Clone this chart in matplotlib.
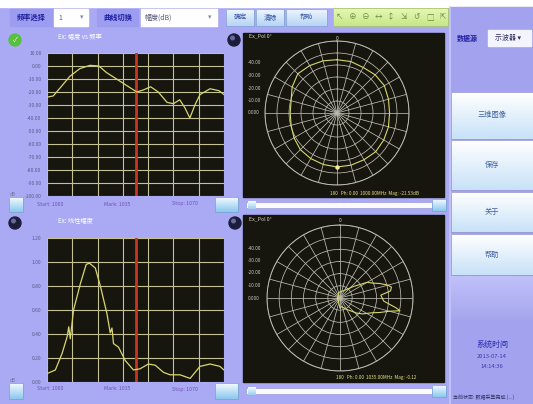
import matplotlib.pyplot as plt
import numpy as np
from matplotlib.patches import Rectangle, Circle
from matplotlib.colors import LinearSegmentedColormap

plt.rcParams['font.family'] = ['Noto Sans CJK SC', 'DejaVu Sans']

W, H = 533, 404

# amplitude sweep (dB) over frequency (MHz)
freq_a = [1000, 1002.5, 1006, 1009, 1013, 1017, 1020.5, 1023.5, 1027.5, 1031.5, 1035.5,
          1038, 1041, 1044, 1047.5, 1050, 1052.5, 1054.5, 1056.5, 1058.5, 1060.5, 1064.5, 1068, 1070]
amp_db = [-24, -23, -15, -8, -2, 0.5, 0, -5, -10, -15, -20,
          -18.5, -16, -20, -28, -29, -26, -32, -40, -30, -22, -17.5, -19, -22]

# linear response over frequency
freq_b = [1000, 1003.3, 1006, 1008, 1008.6, 1009.2, 1010.5, 1013.2, 1015.5, 1016.8, 1019.1, 1021.1,
          1023.7, 1025, 1025.7, 1026.3, 1028.3, 1030.9, 1034.2, 1036.8, 1040.1, 1042.8, 1046.1,
          1048.7, 1052.6, 1056.6, 1060.5, 1064.5, 1068.4, 1070]
amp_lin = [0.07, 0.10, 0.24, 0.38, 0.46, 0.36, 0.60, 0.82, 0.98, 0.99, 0.95, 0.80,
           0.57, 0.41, 0.45, 0.32, 0.29, 0.18, 0.10, 0.11, 0.15, 0.14, 0.08,
           0.06, 0.06, 0.03, 0.13, 0.15, 0.13, 0.10]
marker_freq = 1035

# horizontal-plane pattern (bearing in degrees, normalised radius)
pat1_deg = [0, 15, 30, 45, 60, 75, 90, 105, 120, 135, 150, 165, 180, 195, 210, 225,
            240, 255, 270, 285, 300, 315, 330, 345, 360]
pat1_r = [0.74, 0.74, 0.73, 0.75, 0.76, 0.74, 0.73, 0.74, 0.75, 0.76, 0.75, 0.75, 0.75, 0.74,
          0.73, 0.72, 0.69, 0.66, 0.65, 0.66, 0.72, 0.77, 0.76, 0.75, 0.74]

# second pattern, narrow lobe
pat2_deg = [250, 350, 30, 50, 56, 60, 66, 70, 75, 78, 82, 86, 94, 100, 102, 105, 110, 115,
            125, 132, 150, 170, 180, 190, 270]
pat2_r = [0.04, 0.08, 0.12, 0.25, 0.33, 0.43, 0.50, 0.58, 0.68, 0.72, 0.70, 0.56, 0.60, 0.78,
          0.84, 0.70, 0.58, 0.48, 0.38, 0.31, 0.18, 0.12, 0.14, 0.08, 0.03]

ring_labels = ['-40.00', '-30.00', '-20.00', '-10.00', '0.000']
side_buttons = ['三维图像', '保存', '关于', '帮助']

BG = '#aaaaf4'
PANEL = '#a2a2ee'
DARK = '#16160f'
GRID = '#c4c296'
CURVE = '#dad66c'

fig = plt.figure(figsize=(W / 100, H / 100), dpi=100)
fig.patch.set_facecolor(BG)


def px_axes(x0, y0, x1, y1, **kw):
    return fig.add_axes([x0 / W, 1 - y1 / H, (x1 - x0) / W, (y1 - y0) / H], **kw)


def grad_box(ax, x0, y0, x1, y1, top, bottom, edge=None, z=1):
    cmap = LinearSegmentedColormap.from_list('g', [top, bottom])
    ax.imshow(np.linspace(0, 1, 32).reshape(-1, 1), extent=(x0, x1, y1, y0), cmap=cmap,
              aspect='auto', zorder=z, interpolation='bilinear')
    if edge:
        ax.add_patch(Rectangle((x0, y0), x1 - x0, y1 - y0, fill=False, ec=edge, lw=0.6, zorder=z + 0.1))


bg = px_axes(0, 0, W, H, zorder=0)
bg.axis('off')

# top strip, toolbar and right panel
bg.add_patch(Rectangle((0, 0), W, 7, color='white', zorder=1))
bg.add_patch(Rectangle((450, 7), W - 450, H - 7, color=PANEL, zorder=1))
bg.plot([449.5, 449.5], [7, H], color='#c8c8fa', lw=1.2, zorder=2)

bg.add_patch(Rectangle((10, 9), 43, 17, color='#9c9cf0', zorder=2))
bg.text(31, 17.5, '频率选择', color='#1f1fa0', fontsize=5.2, weight='bold', ha='center', va='center', zorder=3)
bg.add_patch(Rectangle((54, 9), 34, 17, color='white', zorder=2))
bg.text(58, 17.5, '1', color='#555577', fontsize=5, va='center', zorder=3)
bg.text(82, 17.5, '▾', color='#8888aa', fontsize=5, ha='center', va='center', zorder=3)
bg.add_patch(Rectangle((97, 9), 41, 17, color='#9c9cf0', zorder=2))
bg.text(117.5, 17.5, '曲线切换', color='#1f1fa0', fontsize=5.2, weight='bold', ha='center', va='center', zorder=3)
bg.add_patch(Rectangle((141, 9), 76, 17, color='white', zorder=2))
bg.text(145, 17.5, '幅度(dB)', color='#555577', fontsize=5, va='center', zorder=3)
bg.text(210, 17.5, '▾', color='#8888aa', fontsize=5, ha='center', va='center', zorder=3)

for (x0, x1), label in zip([(226, 254), (256, 284), (286, 327)], ['确定', '清除', '帮助']):
    grad_box(bg, x0, 9, x1, 26, '#eef6ff', '#b6d4f4', edge='#8aa6dc', z=2)
    bg.text((x0 + x1) / 2, 17.5, label, color='#3050a0', fontsize=4.8, ha='center', va='center', zorder=3)

grad_box(bg, 333, 8, 448, 26, '#e6f8b4', '#c8e68a', edge='#a8c870', z=2)
for i, ic in enumerate(['↖', '⊕', '⊖', '↔', '↕', '⇲', '↺', '□', '⇱']):
    bg.text(340 + i * 12.8, 17, ic, color='#6a8a40', fontsize=5.5, ha='center', va='center', zorder=3)

# right side controls
bg.text(467, 38, '数据源', color='#1f1fa0', fontsize=5, weight='bold', ha='center', va='center', zorder=3)
bg.add_patch(Rectangle((488, 30), 43, 16, color='#f4f4ff', zorder=2))
bg.text(508, 38, '示波器 ▾', color='#303060', fontsize=5, ha='center', va='center', zorder=3)
for (y0, y1), label in zip([(92, 139), (140, 190), (192, 232), (234, 275)], side_buttons):
    grad_box(bg, 451, y0, 533, y1, '#ffffff', '#c8e2f8', edge='#9a9ad8', z=2)
    bg.text(492, (y0 + y1) / 2, label, color='#4060a0', fontsize=5.2, ha='center', va='center', zorder=3)
grad_box(bg, 451, 276, 533, 320, '#c0c0fa', '#a6a6ee', z=2)
bg.text(492, 344, '系统时间', color='#2a2ab0', fontsize=5.8, ha='center', va='center', zorder=3)
bg.text(492, 356, '2013-07-14', color='#3a3ab0', fontsize=4.2, ha='center', va='center', zorder=3)
bg.text(492, 366, '14:14:36', color='#3a3ab0', fontsize=4.2, ha='center', va='center', zorder=3)
bg.text(453, 397, '当前状态: 数据采集完成 (...)', color='#303060', fontsize=3.6, va='center', zorder=3)

# small buttons and indicator balls around the sweep plots
for x0, x1, y0, y1 in [(9, 23, 197, 212), (215, 238, 197, 212), (9, 23, 383, 399), (215, 238, 383, 399)]:
    grad_box(bg, x0, y0, x1, y1, '#f4fbff', '#8cc8ee', edge='#7aa6d6', z=2)
bg.add_patch(Circle((15, 40), 6, color='#58c040', zorder=2))
bg.text(15, 40, '✓', color='white', fontsize=5, ha='center', va='center', zorder=3)
for cx, cy in [(234, 40), (15, 223), (235, 223)]:
    bg.add_patch(Circle((cx, cy), 6, color='#1c1c3c', zorder=2))
    bg.add_patch(Circle((cx - 1.5, cy - 2), 1.8, color='#6a6a9a', zorder=3))

bg.text(58, 37, 'Ex: 幅度 vs 频率', color='white', fontsize=4.5, va='center', zorder=3)
bg.text(58, 221, 'Ex: 线性幅度', color='white', fontsize=4.5, va='center', zorder=3)
for yb in [204, 389]:
    bg.text(37, yb, 'Start: 1000', color='#7050b8', fontsize=3.8, va='center', zorder=3)
    bg.text(104, yb, 'Mark: 1035', color='#7050b8', fontsize=3.8, va='center', zorder=3)
    bg.text(172, yb, 'Stop: 1070', color='#7050b8', fontsize=3.8, va='center', zorder=3)
bg.text(10, 194, 'dB', color='#7070a0', fontsize=3.4, va='center', zorder=3)
bg.text(10, 380, 'dB', color='#7070a0', fontsize=3.4, va='center', zorder=3)

# sliders under the pattern panels
for ys in [205, 391]:
    bg.add_patch(Rectangle((246, ys - 3), 186, 6, color='#fafaff', ec='#9a9ad8', lw=0.5, zorder=2))
    grad_box(bg, 248, ys - 4, 256, ys + 4, '#f4fbff', '#9ccff0', z=3)
    grad_box(bg, 432, ys - 6, 446, ys + 6, '#f4fbff', '#8cc8ee', edge='#7aa6d6', z=3)

bg.add_patch(Rectangle((243, 33), 201, 164, color=DARK, zorder=2))
bg.add_patch(Rectangle((243, 215), 201, 167, color=DARK, zorder=2))
bg.set_xlim(0, W)
bg.set_ylim(H, 0)


def sweep_axes(rect, x, y, ylim, ystep, fmt):
    ax = px_axes(*rect, zorder=1)
    ax.set_facecolor(DARK)
    ax.set_xlim(1000, 1070)
    ax.set_ylim(*ylim)
    ax.set_xticks(np.arange(1000, 1071, 10))
    ax.set_yticks(np.arange(ylim[0], ylim[1] + ystep / 2, ystep))
    ax.set_xticklabels([])
    ax.set_yticklabels([fmt % v for v in ax.get_yticks()])
    ax.tick_params(length=0, labelsize=3.6, labelcolor='#5a5a88', pad=4)
    ax.grid(color=GRID, lw=0.8)
    for s in ax.spines.values():
        s.set_visible(False)
    ax.axvline(marker_freq, color='#c8361e', lw=2)
    ax.plot(x, y, color=CURVE, lw=0.9)
    return ax


sweep_axes((47, 53, 224, 196), freq_a, amp_db, (-100, 10), 10, '%.2f')
sweep_axes((47, 238, 224, 382), freq_b, amp_lin, (0, 1.2), 0.2, '%.2f')


def pattern_axes(rect, deg, r):
    ax = px_axes(*rect, projection='polar', zorder=3)
    ax.set_facecolor('none')
    ax.set_theta_zero_location('N')
    ax.set_theta_direction(-1)
    ax.set_rlim(0, 1)
    ax.set_rticks(np.linspace(1 / 6, 1, 6))
    ax.set_yticklabels([])
    ax.set_thetagrids(np.arange(0, 360, 15), labels=[])
    ax.grid(color='#bcbcb0', lw=0.55)
    ax.spines['polar'].set_color('#bcbcb0')
    ax.spines['polar'].set_linewidth(0.7)
    ax.tick_params(length=0)
    ax.plot(np.deg2rad(deg), r, color=CURVE, lw=0.8)
    return ax


p1 = pattern_axes((265, 41, 409, 185), pat1_deg, pat1_r)
p1.plot(np.deg2rad(180), 0.75, 'o', color='#f4f0a0', ms=2.2)
pattern_axes((267, 225, 413, 371), pat2_deg, pat2_r)

# labels drawn over the pattern panels
fg = px_axes(0, 0, W, H, zorder=5)
fg.set_facecolor('none')
fg.axis('off')
fg.set_xlim(0, W)
fg.set_ylim(H, 0)
for cx, cy, top in [(337, 113, 36), (340, 298, 219)]:
    fg.text(249, top, 'Ex_Pol 0°', color='#d8d8c8', fontsize=3.8, va='center')
    fg.text(cx, top + 2, '0', color='#d8d8c8', fontsize=3.6, ha='center', va='center')
    for k, lab in enumerate(ring_labels):
        fg.text(248, cy - (4 - k) * 12.5, lab, color='#c8c8b8', fontsize=3.4, va='center')
fg.text(330, 193, '180   Ph: 0.00  1000.00MHz  Mag: -21.53dB', color='#e4e07a', fontsize=3.4, va='center')
fg.text(336, 378, '180   Ph: 0.00  1035.00MHz  Mag: -0.12', color='#e4e07a', fontsize=3.4, va='center')

fig.savefig('out.png', dpi=100, facecolor=fig.get_facecolor())
